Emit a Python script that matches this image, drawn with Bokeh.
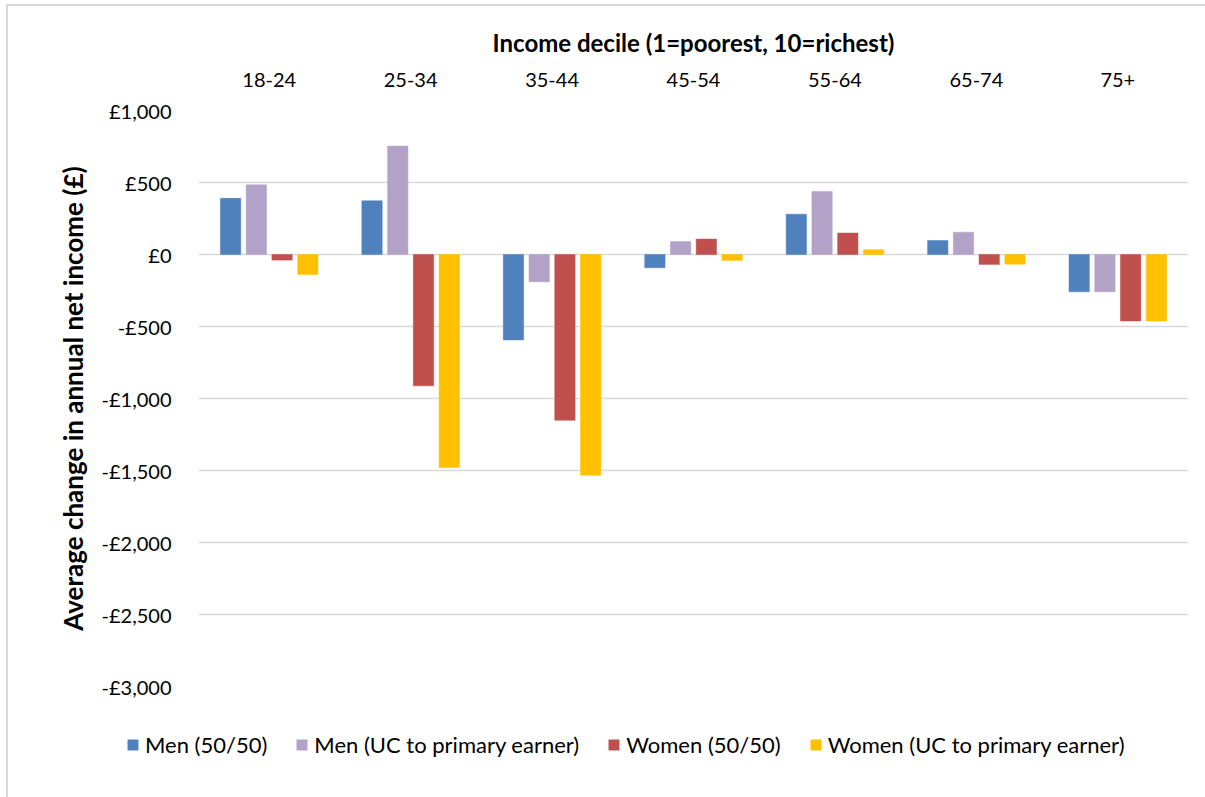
from bokeh.plotting import figure
from bokeh.layouts import column
from bokeh.models import Range1d, FixedTicker, Legend, LegendItem, ColumnDataSource
from bokeh.transform import dodge
from bokeh.embed import file_html
from bokeh.resources import INLINE

categories = ["18-24", "25-34", "35-44", "45-54", "55-64", "65-74", "75+"]
men_5050 = [390, 373, -593, -92, 280, 97, -259]
men_uc = [484, 753, -190, 90, 438, 155, -259]
women_5050 = [-39, -912, -1151, 107, 149, -69, -462]
women_uc = [-139, -1479, -1533, -41, 33, -67, -462]

series_names = ["Men (50/50)", "Men (UC to primary earner)", "Women (50/50)", "Women (UC to primary earner)"]
series_keys = ["men_5050", "men_uc", "women_5050", "women_uc"]
colors = ["#4F81BD", "#B3A2C7", "#C0504D", "#FFC000"]

y_ticks = [-3000, -2500, -2000, -1500, -1000, -500, 0, 500, 1000]
y_tick_labels = ["-£3,000", "-£2,500", "-£2,000", "-£1,500", "-£1,000", "-£500", "£0", "£500", "£1,000"]

source = ColumnDataSource(dict(cat=categories, men_5050=men_5050, men_uc=men_uc,
                               women_5050=women_5050, women_uc=women_uc))

FONT = "Lato"
offsets = [-0.273, -0.091, 0.091, 0.273]

# main chart
p = figure(x_range=categories, y_range=Range1d(-3000, 1000),
           width=1205, height=700, x_axis_location="above",
           output_backend="svg", toolbar_location=None,
           min_border_left=198, min_border_right=17, min_border_top=110, min_border_bottom=14)
p.outline_line_color = None
p.background_fill_color = "white"
p.border_fill_color = None

for key, col, off in zip(series_keys, colors, offsets):
    p.vbar(x=dodge("cat", off, range=p.x_range), top=key, bottom=0, width=0.144,
           source=source, fill_color=col, line_color=col, line_width=0.5)

p.xgrid.grid_line_color = None
p.ygrid.grid_line_color = "#d9d9d9"
p.ygrid.grid_line_width = 1.5

xa = p.xaxis[0]
xa.axis_label = "Income decile (1=poorest, 10=richest)"
xa.axis_label_text_font = FONT
xa.axis_label_text_font_style = "bold"
xa.axis_label_text_font_size = "24px"
xa.axis_label_text_color = "black"
xa.axis_label_standoff = 13
xa.major_label_text_font = FONT
xa.major_label_text_font_size = "20px"
xa.major_label_text_color = "black"
xa.major_label_standoff = 18
xa.axis_line_color = None
xa.major_tick_line_color = None
xa.minor_tick_line_color = None

ya = p.yaxis[0]
ya.ticker = FixedTicker(ticks=y_ticks)
ya.major_label_overrides = {t: l for t, l in zip(y_ticks, y_tick_labels)}
ya.axis_label = "Average change in annual net income (£)"
ya.axis_label_text_font = FONT
ya.axis_label_text_font_style = "bold"
ya.axis_label_text_font_size = "26px"
ya.axis_label_text_color = "black"
ya.axis_label_standoff = 10
ya.major_label_text_font = FONT
ya.major_label_text_font_size = "20px"
ya.major_label_text_color = "black"
ya.major_label_standoff = 21
ya.axis_line_color = None
ya.major_tick_line_color = None
ya.minor_tick_line_color = None

# legend strip below the chart
pl = figure(x_range=p.x_range, y_range=Range1d(-3000, 1000), width=1205, height=97,
            output_backend="svg", toolbar_location=None,
            x_axis_location=None, y_axis_location=None,
            min_border=0, min_border_left=0, min_border_right=0, min_border_top=0, min_border_bottom=0)
pl.frame_align = False
pl.outline_line_color = None
pl.xgrid.grid_line_color = None
pl.ygrid.grid_line_color = None
pl.background_fill_color = None
pl.border_fill_color = None

items = []
for key, name, col, off in zip(series_keys, series_names, colors, offsets):
    r = pl.vbar(x=dodge("cat", off, range=pl.x_range), top=key, bottom=0, width=0.144,
                source=source, fill_color=col, line_color=col, line_width=0.5, visible=False)
    items.append(LegendItem(label=name, renderers=[r]))

legend = Legend(items=items, location=(126, 39), orientation="horizontal",
                border_line_color=None, background_fill_alpha=0,
                glyph_width=13, glyph_height=13, label_height=13, label_standoff=6, spacing=28,
                padding=0, margin=0, label_text_font=FONT, label_text_font_size="22px",
                label_text_color="black", inactive_fill_alpha=0)
pl.add_layout(legend)

layout = column(p, pl, spacing=0,
                styles={"box-shadow": "inset 6px 4px 0 0 #ffffff, inset 8px 6px 0 0 #d9d9d9"})
open("out.html", "w").write(file_html(layout, INLINE))
